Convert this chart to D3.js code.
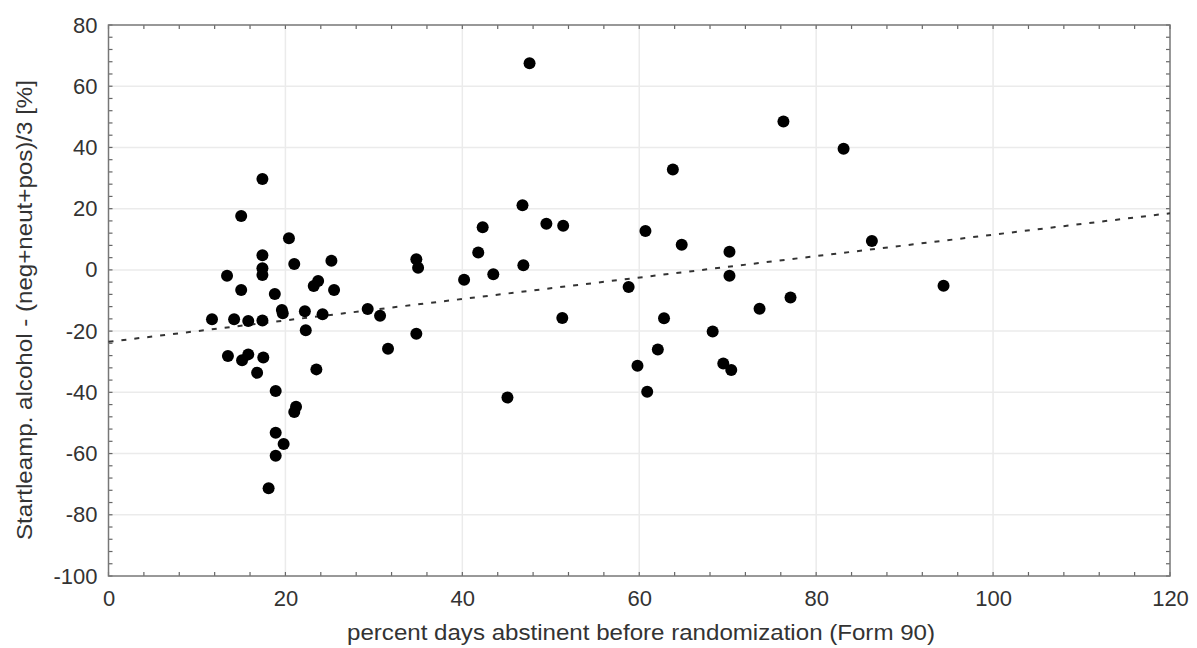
<!DOCTYPE html>
<html>
<head>
<meta charset="utf-8">
<script src="https://cdn.jsdelivr.net/npm/d3@7"></script>
<style>
  html, body { margin: 0; padding: 0; background: #fff; }
  svg { display: block; }
  text { font-family: "Liberation Sans", Arial, sans-serif; fill: #333; }
</style>
</head>
<body>
<svg id="chart" width="1197" height="648"></svg>
<script>
// Percent days abstinent (x) vs. startle amplitude difference (y)
const abstinent = [
  11.7, 13.4, 13.5, 14.2, 15.0, 15.0, 15.1, 15.8, 15.8, 16.8,
  17.4, 17.4, 17.4, 17.4, 17.4, 17.5, 18.1, 18.8, 18.9, 18.9,
  18.9, 19.6, 19.7, 19.8, 20.4, 21.0, 21.0, 21.2, 22.2, 22.3,
  23.2, 23.5, 23.7, 24.2, 25.2, 25.5, 29.3, 30.7, 31.6, 34.8,
  35.0, 34.8, 40.2, 41.8, 42.3, 43.5, 45.1, 46.8, 46.9, 47.6,
  49.5, 51.4, 51.3, 58.8, 59.8, 60.7, 60.9, 62.1, 62.8, 63.8,
  64.8, 68.3, 69.5, 70.2, 70.2, 70.4, 73.6, 76.3, 77.1, 83.1,
  86.3, 94.4
];
const startle = [
  -16.1, -1.9, -28.1, -16.1, 17.6, -6.6, -29.5, -27.6, -16.7, -33.6,
  29.7, 4.8, 0.5, -1.7, -16.5, -28.6, -71.3, -7.9, -39.6, -53.2,
  -60.7, -13.1, -14.2, -56.9, 10.3, 1.9, -46.4, -44.7, -13.5, -19.7,
  -5.3, -32.5, -3.6, -14.5, 3.0, -6.6, -12.8, -15.0, -25.8, 3.5,
  0.7, -20.9, -3.2, 5.7, 13.9, -1.4, -41.7, 21.1, 1.5, 67.5,
  15.1, 14.4, -15.7, -5.6, -31.3, 12.7, -39.8, -26.0, -15.8, 32.8,
  8.2, -20.1, -30.6, 5.9, -1.9, -32.7, -12.7, 48.5, -9.0, 39.6,
  9.4, -5.2
];
// Fitted linear trend: y = fitIntercept + fitSlope * x
const fitIntercept = -23.5;
const fitSlope = 0.35;

const xTicks = [0, 20, 40, 60, 80, 100, 120];
const yTicks = [-100, -80, -60, -40, -20, 0, 20, 40, 60, 80];
const xTitle = "percent days abstinent before randomization (Form 90)";
const yTitle = "Startleamp. alcohol - (neg+neut+pos)/3 [%]";

const svg = d3.select("#chart");
const plotLeft = 108.5, plotRight = 1170, plotTop = 25, plotBottom = 576;

const x = d3.scaleLinear().domain([0, 120]).range([plotLeft, plotRight]);
const y = d3.scaleLinear().domain([-100, 80]).range([plotBottom, plotTop]);
const plainNumber = d => String(d);

// Grid lines
const grid = svg.append("g").attr("stroke", "#ebebeb").attr("stroke-width", 1.5);
xTicks.slice(1, -1).forEach(t => {
  grid.append("line").attr("x1", x(t)).attr("x2", x(t)).attr("y1", plotTop).attr("y2", plotBottom);
});
yTicks.slice(1, -1).forEach(t => {
  grid.append("line").attr("x1", plotLeft).attr("x2", plotRight).attr("y1", y(t)).attr("y2", y(t));
});

// Minor ticks every 4 units, pointing inward on all four sides
const minorX = d3.range(0, 120.001, 4);
const minorY = d3.range(-100, 80.001, 4);
const tickLen = 4;
const ticks = svg.append("g").attr("stroke", "#666").attr("stroke-width", 1.2);
minorX.forEach(t => {
  ticks.append("line").attr("x1", x(t)).attr("x2", x(t)).attr("y1", plotBottom).attr("y2", plotBottom - tickLen);
  ticks.append("line").attr("x1", x(t)).attr("x2", x(t)).attr("y1", plotTop).attr("y2", plotTop + tickLen);
});
minorY.forEach(t => {
  ticks.append("line").attr("x1", plotLeft).attr("x2", plotLeft + tickLen).attr("y1", y(t)).attr("y2", y(t));
  ticks.append("line").attr("x1", plotRight).attr("x2", plotRight - tickLen).attr("y1", y(t)).attr("y2", y(t));
});

// Frame
svg.append("rect")
  .attr("x", plotLeft).attr("y", plotTop)
  .attr("width", plotRight - plotLeft).attr("height", plotBottom - plotTop)
  .attr("fill", "none").attr("stroke", "#777").attr("stroke-width", 1.5);

// Axis labels via d3 axes (tick lines hidden, labels only)
const xAxis = svg.append("g")
  .attr("transform", `translate(0,${plotBottom})`)
  .call(d3.axisBottom(x).tickValues(xTicks).tickSize(0).tickPadding(14).tickFormat(plainNumber));
xAxis.select(".domain").remove();
xAxis.selectAll("text").style("font-size", "22px").attr("fill", "#333");

const yAxis = svg.append("g")
  .attr("transform", `translate(${plotLeft},0)`)
  .call(d3.axisLeft(y).tickValues(yTicks).tickSize(0).tickPadding(11).tickFormat(plainNumber));
yAxis.select(".domain").remove();
yAxis.selectAll("text").style("font-size", "22px").attr("fill", "#333");

// Trend line
svg.append("line")
  .attr("x1", x(0)).attr("y1", y(fitIntercept))
  .attr("x2", x(120)).attr("y2", y(fitIntercept + fitSlope * 120))
  .attr("stroke", "#333").attr("stroke-width", 2)
  .attr("stroke-dasharray", "5,8");

// Scatter points
svg.append("g")
  .selectAll("circle")
  .data(abstinent.map((v, i) => [v, startle[i]]))
  .join("circle")
  .attr("cx", d => x(d[0]))
  .attr("cy", d => y(d[1]))
  .attr("r", 6)
  .attr("fill", "#000");

// Axis titles
svg.append("text")
  .attr("x", 641).attr("y", 640)
  .attr("text-anchor", "middle")
  .style("font-size", "22px")
  .attr("textLength", 588)
  .attr("lengthAdjust", "spacingAndGlyphs")
  .text(xTitle);

svg.append("text")
  .attr("transform", `translate(32,310) rotate(-90)`)
  .attr("text-anchor", "middle")
  .style("font-size", "22px")
  .attr("textLength", 460)
  .attr("lengthAdjust", "spacingAndGlyphs")
  .text(yTitle);
</script>
</body>
</html>
